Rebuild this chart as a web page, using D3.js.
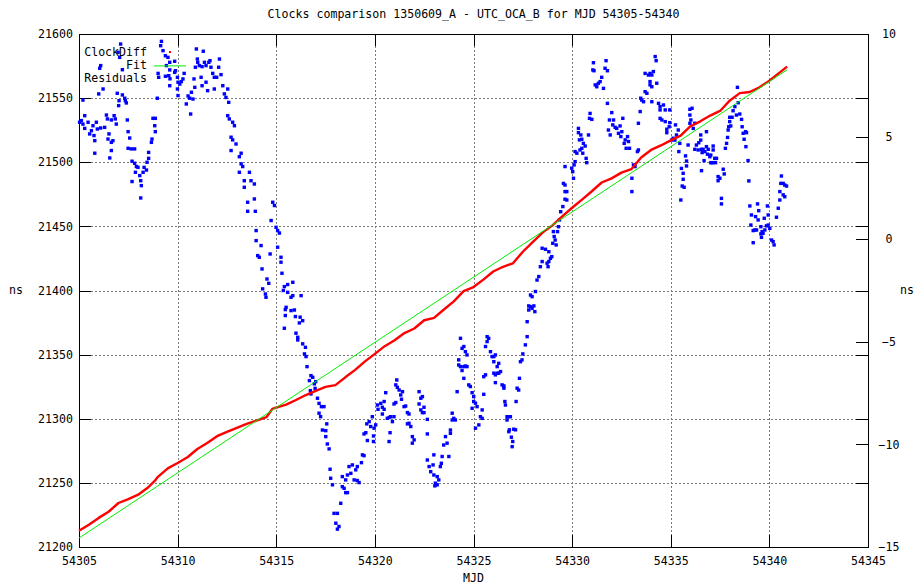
<!DOCTYPE html>
<html>
<head>
<meta charset="utf-8">
<script src="https://cdn.jsdelivr.net/npm/d3@7/dist/d3.min.js"></script>
<style>
  html, body { margin: 0; padding: 0; background: #fff; }
  svg { display: block; }
  text { font-family: "DejaVu Sans Mono", "Liberation Mono", monospace; font-size: 11.6px; fill: #000; }
</style>
</head>
<body>
<svg id="chart" width="914" height="588"></svg>
<script>
// ---- chart text ----
const title = "Clocks comparison 1350609_A - UTC_OCA_B for MJD 54305-54340";
const xLabel = "MJD";
const yLabel = "ns";
const legendNames = ["ClockDiff", "Fit", "Residuals"];

// ---- axis ticks ----
const xTicks = [54305, 54310, 54315, 54320, 54325, 54330, 54335, 54340, 54345];
const yTicks = [21200, 21250, 21300, 21350, 21400, 21450, 21500, 21550, 21600];
const y2Ticks = [-15, -10, -5, 0, 5, 10];

// ---- ClockDiff (ns, left axis) ----
const clockMjd = [54305.0, 54305.5, 54306.0, 54306.5, 54307.0, 54307.5, 54308.0, 54308.5, 54308.85, 54309.0,
  54309.5, 54310.0, 54310.5, 54311.0, 54311.5, 54312.0, 54312.5, 54313.0, 54313.5, 54314.0,
  54314.5, 54314.8, 54315.0, 54315.5, 54316.0, 54316.5, 54317.0, 54317.5, 54318.0, 54318.5,
  54319.0, 54319.5, 54320.0, 54320.5, 54321.0, 54321.5, 54322.0, 54322.5, 54323.0, 54323.5,
  54324.0, 54324.5, 54325.0, 54325.5, 54326.0, 54326.5, 54327.0, 54327.5, 54328.0, 54328.5,
  54329.0, 54329.5, 54330.0, 54330.5, 54331.0, 54331.5, 54332.0, 54332.5, 54333.0, 54333.5,
  54334.0, 54334.5, 54335.0, 54335.5, 54336.0, 54336.5, 54337.0, 54337.5, 54338.0, 54338.5,
  54339.0, 54339.5, 54340.0, 54340.5, 54340.9];
const clockNs = [21212.7, 21217.4, 21222.7, 21227.5, 21234.3, 21237.4, 21240.8, 21246.4, 21251.7, 21254.7,
  21261.3, 21265.5, 21270.0, 21276.4, 21281.1, 21286.4, 21289.8, 21292.9, 21296.0, 21298.6,
  21301.2, 21307.7, 21308.7, 21311.0, 21314.6, 21318.5, 21321.7, 21324.8, 21326.2, 21332.3,
  21338.1, 21344.7, 21350.6, 21356.6, 21361.2, 21366.8, 21370.4, 21376.8, 21378.6, 21385.2,
  21391.5, 21399.5, 21402.7, 21408.5, 21414.8, 21418.5, 21421.2, 21430.2, 21437.8, 21445.1,
  21450.8, 21457.8, 21464.5, 21470.9, 21477.4, 21484.2, 21487.4, 21491.9, 21494.6, 21503.7,
  21509.6, 21513.1, 21517.1, 21520.7, 21528.1, 21531.9, 21536.4, 21540.0, 21548.2, 21553.9,
  21554.8, 21558.4, 21563.6, 21569.7, 21574.6];

// ---- linear fit (ns, left axis) ----
const fitMjd = [54305.0, 54340.9];
const fitNs = [21207.0, 21572.1];

// ---- residuals [MJD, ns] (right axis) ----
const residuals = [
  [54305.03,5.70],[54305.12,5.78],[54305.20,6.78],[54305.20,5.61],[54305.29,6.02],[54305.29,5.40],[54305.46,5.70],
  [54305.54,5.13],[54305.63,5.29],[54305.71,5.53],[54305.76,5.05],[54305.80,4.80],[54305.80,4.19],[54305.88,5.70],
  [54305.93,5.37],[54306.00,7.08],[54306.10,8.46],[54306.05,8.33],[54306.10,5.42],[54306.22,7.32],[54306.30,5.45],
  [54306.39,6.05],[54306.44,5.86],[54306.47,4.88],[54306.52,5.13],[54306.56,3.96],[54306.64,5.81],[54306.64,4.72],
  [54306.64,4.32],[54306.72,4.80],[54306.78,6.02],[54306.84,5.86],[54306.89,5.61],[54306.94,7.11],[54307.01,6.51],
  [54307.03,6.75],[54306.98,9.11],[54307.06,8.86],[54307.11,9.51],[54307.20,8.26],[54307.20,7.03],[54307.32,6.87],
  [54307.35,6.75],[54307.40,6.64],[54307.45,5.81],[54307.49,5.24],[54307.57,4.93],[54307.49,4.43],[54307.65,4.40],
  [54307.82,4.40],[54307.69,3.80],[54307.82,3.70],[54307.91,3.54],[54307.99,3.50],[54307.86,3.26],[54308.08,3.10],
  [54308.25,3.26],[54308.13,2.85],[54307.69,2.81],[54308.16,2.61],[54308.13,2.01],[54308.30,3.50],[54308.45,3.75],
  [54308.42,3.37],[54308.53,3.94],[54308.53,4.23],[54308.67,4.72],[54308.70,4.88],[54308.75,5.89],[54308.87,5.89],
  [54308.84,5.53],[54308.87,5.24],[54308.97,6.87],[54309.18,9.64],[54309.14,9.43],[54309.26,9.19],[54309.38,8.94],
  [54309.51,8.86],[54309.60,8.62],[54309.43,8.46],[54309.60,8.25],[54309.55,7.97],[54309.38,7.94],[54309.01,8.08],
  [54309.04,7.89],[54309.60,7.48],[54309.85,8.67],[54309.89,8.21],[54309.85,8.13],[54309.99,7.89],[54310.02,7.65],
  [54309.99,7.32],[54310.02,7.00],[54310.11,7.56],[54310.19,7.68],[54310.33,8.08],[54310.27,7.81],[54310.44,6.59],
  [54310.53,6.98],[54310.61,6.87],[54310.70,7.16],[54310.66,6.10],[54310.78,6.83],[54310.87,7.40],[54310.83,7.81],
  [54310.90,8.38],[54310.95,9.27],[54311.00,8.78],
  [54311.30,9.16],[54311.02,8.62],[54311.10,8.46],[54311.24,8.41],[54311.36,8.62],[54311.44,8.46],[54311.58,8.62],
  [54311.64,8.70],[54311.69,8.38],[54312.12,8.78],[54312.08,8.38],[54312.20,8.02],[54311.78,8.08],[54311.86,7.89],
  [54311.98,7.89],[54311.19,7.89],[54311.24,7.48],[54311.44,7.65],[54311.52,7.24],[54311.86,7.32],[54312.29,7.48],
  [54312.37,7.08],[54312.54,7.32],[54312.45,6.91],[54312.59,6.67],[54312.54,6.02],[54312.62,5.86],[54312.79,5.70],
  [54312.88,5.53],[54312.71,4.97],[54312.79,4.84],[54312.96,4.64],[54312.71,4.32],[54313.22,4.19],[54313.13,4.02],
  [54313.22,3.67],[54313.30,3.54],[54313.13,3.26],[54313.64,3.26],[54313.72,2.85],[54313.89,2.69],[54313.38,2.85],
  [54313.38,2.53],[54313.55,1.80],[54313.89,1.96],[54313.55,1.36],[54313.94,1.36],[54314.82,1.80],[54314.91,1.64],
  [54314.74,0.91],[54314.99,0.58],[54315.07,0.42],[54315.16,0.30],[54313.98,0.42],[54313.98,-0.07],[54314.23,-0.31],
  [54314.06,-0.80],[54314.14,-0.88],[54314.69,-0.72],[54315.07,-0.39],[54315.24,-0.88],[54315.24,-1.12],[54315.29,-1.66],
  [54314.28,-1.45],[54314.53,-1.94],[54314.62,-2.15],[54314.31,-2.42],[54314.45,-2.67],[54314.48,-2.83],[54315.41,-2.31],
  [54315.58,-2.21],[54315.84,-2.10],[54315.36,-2.50],[54315.58,-2.59],[54315.75,-2.83],[54315.84,-2.75],[54316.26,-2.75],
  [54315.50,-3.32],[54315.46,-3.43],[54315.75,-3.48],[54315.92,-3.45],[54315.46,-3.72],[54315.97,-3.77],[54316.21,-3.80],
  [54316.34,-3.97],[54316.17,-4.08],[54315.41,-4.34],[54316.00,-4.58],[54316.09,-4.78],[54316.09,-4.91],[54316.34,-5.10],
  [54316.48,-5.27],[54316.43,-5.59],[54316.51,-5.72],[54316.56,-6.21],[54316.76,-6.65],[54316.85,-6.73],[54316.68,-6.89],
  [54316.93,-7.05],[54316.73,-7.38],[54316.76,-7.54],
  [54317.00,-6.94],[54316.97,-7.27],[54317.09,-7.75],[54317.17,-8.00],[54317.17,-8.48],[54317.29,-8.16],[54317.42,-8.16],
  [54317.25,-8.65],[54317.56,-9.00],[54317.34,-9.30],[54317.51,-9.33],[54317.51,-9.62],[54317.59,-9.98],[54317.68,-10.22],
  [54317.73,-11.21],[54317.76,-11.65],[54317.85,-11.97],[54318.27,-12.87],[54317.93,-13.36],[54318.10,-13.36],[54318.02,-13.84],
  [54318.18,-14.00],[54318.10,-14.13],[54318.35,-12.06],[54318.44,-12.14],[54318.52,-12.35],[54318.61,-12.35],[54318.35,-11.57],
  [54318.52,-11.73],[54318.61,-11.49],[54318.78,-11.41],[54318.69,-11.08],[54318.86,-11.00],[54319.03,-11.24],[54319.11,-11.08],
  [54318.95,-11.73],[54319.11,-11.76],[54319.20,-11.86],[54319.32,-10.89],[54319.37,-10.51],[54319.45,-10.55],[54319.45,-9.49],
  [54319.54,-9.43],[54319.62,-9.81],[54319.59,-9.00],[54319.71,-8.89],[54319.79,-9.13],[54319.87,-8.65],[54319.96,-9.21],
  [54319.93,-9.59],[54319.93,-9.86],[54320.04,-9.05],[54320.13,-8.08],[54320.16,-8.29],[54320.30,-8.00],[54320.38,-8.19],
  [54320.47,-7.91],[54320.47,-8.29],[54320.38,-8.52],[54320.55,-7.48],[54320.63,-8.73],[54320.72,-8.69],[54320.80,-8.65],
  [54320.97,-8.65],[54320.89,-8.89],[54320.77,-9.43],[54320.72,-9.86],[54320.97,-8.03],[54321.06,-7.96],[54321.11,-6.86],
  [54321.14,-7.22],[54321.06,-7.10],[54321.23,-7.35],[54321.31,-7.59],[54321.40,-7.43],[54321.35,-7.80],[54321.48,-8.16],
  [54321.56,-8.13],[54321.65,-8.45],[54321.73,-8.52],[54321.65,-9.00],[54321.73,-8.97],[54321.82,-9.13],[54321.90,-9.62],
  [54321.90,-9.94],[54321.99,-9.78],[54322.24,-7.43],[54322.33,-7.75],[54322.41,-7.67],[54322.24,-8.03],[54322.33,-8.32],
  [54322.41,-8.45],[54322.49,-8.45],[54322.49,-8.19],[54322.66,-8.78],[54322.66,-9.49],[54322.66,-10.76],[54322.75,-11.08],
  [54322.83,-11.33],
  [54322.99,-10.51],[54322.95,-11.00],[54322.99,-11.49],[54323.16,-11.57],[54323.24,-11.73],[54323.07,-11.89],[54323.16,-11.97],
  [54323.04,-12.02],[54323.32,-11.08],[54323.37,-10.92],[54323.41,-10.59],[54323.49,-10.03],[54323.58,-9.62],[54323.66,-9.94],
  [54323.75,-10.59],[54323.83,-9.46],[54323.83,-9.30],[54323.92,-8.48],[54324.00,-8.73],[54324.08,-8.81],[54323.92,-8.81],
  [54324.17,-7.43],[54324.25,-6.13],[54324.34,-4.83],[54324.42,-5.32],[54324.51,-5.23],[54324.59,-5.48],[54324.25,-5.88],
  [54324.34,-6.21],[54324.51,-6.21],[54324.59,-6.18],[54324.67,-6.21],[54324.42,-6.40],[54324.51,-6.78],[54324.67,-5.64],
  [54324.76,-7.10],[54324.84,-7.18],[54324.93,-7.48],[54325.01,-7.67],[54325.01,-7.91],[54324.93,-8.24],[54325.10,-7.99],
  [54325.18,-8.16],[54325.10,-9.21],[54325.27,-9.05],[54325.35,-8.65],[54325.44,-8.73],[54325.44,-8.32],[54325.52,-7.56],
  [54325.52,-6.70],[54325.61,-6.61],[54325.61,-5.23],[54325.69,-4.75],[54325.77,-4.83],[54325.69,-4.99],[54325.86,-5.48],
  [54325.94,-5.72],[54326.03,-5.72],[54326.11,-5.64],[54326.03,-5.97],[54326.03,-6.53],[54326.11,-6.61],[54326.20,-6.53],
  [54326.28,-6.53],[54326.37,-6.45],[54326.20,-6.21],[54326.28,-6.05],[54326.11,-6.99],[54326.45,-7.10],[54326.54,-7.15],
  [54326.54,-7.26],[54326.59,-7.91],[54326.62,-8.08],[54326.70,-8.65],[54326.70,-8.81],[54326.79,-8.65],[54326.87,-8.65],
  [54326.82,-9.29],[54326.79,-9.38],[54326.92,-9.65],[54326.99,-9.86],[54327.04,-9.26],[54327.13,-9.29],[54326.96,-10.11],
  [54327.16,-7.91],[54327.21,-7.26],[54327.29,-7.35],[54327.33,-6.78],[54327.38,-5.97],[54327.46,-5.88],[54327.50,-5.59],
  [54327.63,-5.15],[54327.72,-4.75],[54327.72,-4.02],[54327.80,-3.45],[54327.80,-3.25],[54327.89,-3.29],[54327.97,-3.37],
  [54328.06,-3.25],[54328.11,-3.53],[54327.89,-2.72],[54327.97,-2.80],[54328.14,-2.55],[54328.22,-1.99],[54328.31,-1.82],
  [54328.39,-1.34],[54328.48,-1.09],[54328.48,-0.44],[54328.65,-0.49],[54328.73,-1.17],[54328.82,-1.09],[54328.78,-1.34],
  [54328.90,-0.93],[54328.82,-0.61],
  [54328.97,-0.85],[54329.02,-0.20],[54329.09,0.13],[54329.14,-0.04],[54329.19,-0.28],[54329.05,0.37],[54329.26,0.37],
  [54329.31,0.61],[54329.36,0.94],[54329.42,1.34],[54329.53,1.59],[54329.64,1.95],[54329.73,1.91],[54329.64,2.32],
  [54329.56,2.72],[54329.64,2.64],[54330.07,2.97],[54330.03,3.29],[54329.98,3.46],[54330.10,3.62],[54330.15,3.78],
  [54329.64,3.54],[54329.73,2.32],[54330.15,4.27],[54330.24,4.19],[54330.40,4.35],[54330.49,4.43],[54330.54,4.19],
  [54330.66,4.54],[54330.57,4.67],[54330.49,4.87],[54330.37,4.84],[54330.44,5.08],[54330.32,5.40],[54330.32,5.19],
  [54330.71,3.94],[54330.74,3.73],[54330.83,5.08],[54330.91,6.13],[54330.88,5.89],[54331.00,5.84],[54331.08,8.60],
  [54331.05,8.25],[54331.11,8.21],[54331.17,7.52],[54331.25,7.43],[54331.33,7.60],[54331.42,7.68],[54331.50,7.89],
  [54331.59,7.35],[54331.67,8.33],[54331.72,8.70],[54331.79,8.21],[54331.79,6.62],[54331.84,5.32],[54331.89,5.81],
  [54331.93,5.08],[54332.01,6.17],[54332.10,5.81],[54332.06,5.57],[54332.18,5.45],[54332.26,5.40],[54332.35,5.16],
  [54332.43,5.52],[54332.47,5.00],[54332.52,5.24],[54332.57,5.89],[54332.64,4.67],[54332.69,4.84],[54332.74,4.43],
  [54332.81,5.00],[54332.86,4.76],[54332.91,4.43],[54333.03,2.32],[54333.03,2.97],[54333.11,3.62],[54333.19,3.54],
  [54333.36,4.35],[54333.31,4.27],[54333.36,5.65],[54333.45,6.22],[54333.48,6.87],[54333.53,6.78],[54333.62,6.70],
  [54333.70,7.19],[54333.79,7.11],[54333.70,8.08],[54333.87,8.00],[54333.95,8.08],[54334.04,8.00],[54334.12,8.17],
  [54333.95,7.68],[54333.95,7.52],[54334.04,7.43],[54334.04,6.70],[54334.29,7.60],[54334.21,8.90],[54334.26,8.70],
  [54334.38,6.62],[54334.46,6.46],[54334.46,6.30],[54334.63,6.54],[54334.72,6.30],[54334.46,5.89],[54334.55,5.81],
  [54334.72,5.73],[54334.80,5.36],[54334.80,5.19],
  [54334.95,6.30],[54334.95,5.68],[54334.92,5.48],[54335.04,4.83],[54335.12,4.92],[54335.21,4.83],[54335.29,5.08],
  [54335.24,5.57],[54335.38,5.32],[54335.46,4.67],[54335.41,4.27],[54335.54,3.45],[54335.51,1.91],[54335.63,3.21],
  [54335.63,2.92],[54335.58,2.59],[54335.68,2.53],[54335.75,4.06],[54335.80,3.81],[54335.80,3.57],[54335.88,4.59],
  [54335.97,6.33],[54336.08,6.38],[54335.97,6.05],[54336.02,5.81],[54335.97,5.65],[54336.14,5.40],[54336.22,5.65],
  [54336.22,4.38],[54336.30,4.59],[54336.39,4.35],[54336.42,4.70],[54336.52,5.08],[54336.52,4.83],[54336.56,4.38],
  [54336.59,4.22],[54336.56,3.34],[54336.64,4.38],[54336.69,3.83],[54336.73,4.27],[54336.81,5.24],[54336.81,4.51],
  [54336.86,4.14],[54336.90,4.38],[54336.98,4.02],[54337.03,4.10],[54337.03,3.73],[54337.07,3.73],[54337.15,3.73],
  [54337.15,4.54],[54337.15,4.35],[54337.23,3.94],[54337.32,3.94],[54337.27,3.73],[54337.40,3.05],[54337.40,2.85],
  [54337.49,2.97],[54337.57,1.99],[54337.57,1.72],[54337.66,3.41],[54337.71,3.18],[54337.77,4.43],[54337.83,4.67],
  [54337.88,4.96],[54337.91,5.32],[54337.94,5.48],[54337.99,5.73],[54337.99,5.94],[54338.04,5.52],[54338.11,5.94],
  [54338.16,6.26],[54338.25,6.46],[54338.33,6.05],[54338.42,6.65],[54338.38,7.40],[54338.50,6.10],[54338.59,5.84],
  [54338.62,5.48],[54338.67,5.16],[54338.72,4.87],[54338.79,5.24],[54338.84,5.19],[54338.81,4.51],[54338.92,3.83],
  [54338.96,2.84],[54339.01,1.62],[54339.06,0.69],[54339.09,1.18],[54339.18,0.42],[54339.26,0.45],[54339.30,1.10],
  [54339.35,0.45],[54339.40,1.72],[54339.46,1.39],[54339.43,0.94],[54339.57,0.61],[54339.57,0.26],[54339.60,0.09],
  [54339.63,0.37],[54339.68,0.29],[54339.77,0.45],[54339.18,-0.17],[54339.74,1.02],[54339.90,1.62],[54339.94,1.18],
  [54339.85,0.65],[54339.94,0.69],[54340.02,0.53],[54340.11,-0.04],[54340.19,-0.12],[54340.24,-0.28],[54340.36,1.07],
  [54340.45,1.51],[54340.53,1.91],[54340.53,2.32],[54340.58,2.72],[54340.61,3.08],[54340.70,2.72],[54340.78,2.64],
  [54340.87,2.59],[54340.70,2.16],[54340.78,2.07]
];

// ---- layout ----
const W = 914, H = 588;
const plot = { left: 79, right: 868, top: 34, bottom: 547 };
const TICK = 12;

const svg = d3.select("#chart");
svg.append("rect").attr("width", W).attr("height", H).attr("fill", "#fff");

const x = d3.scaleLinear().domain([54305, 54345]).range([plot.left, plot.right]);
const yL = d3.scaleLinear().domain([21200, 21600]).range([plot.bottom, plot.top]);
const yR = d3.scaleLinear().domain([-15, 10]).range([plot.bottom, plot.top]);

// dotted grid
const grid = svg.append("g").attr("stroke", "#7a7a7a").attr("stroke-width", 1)
  .attr("stroke-dasharray", "1.5,2.5").attr("shape-rendering", "crispEdges");
grid.selectAll("line.gx").data(xTicks.slice(1, -1)).join("line")
  .attr("x1", d => Math.round(x(d)) + 0.5).attr("x2", d => Math.round(x(d)) + 0.5)
  .attr("y1", plot.top).attr("y2", plot.bottom);
grid.selectAll("line.gy").data(yTicks.slice(1, -1)).join("line")
  .attr("x1", plot.left).attr("x2", plot.right)
  .attr("y1", d => Math.round(yL(d)) + 0.5).attr("y2", d => Math.round(yL(d)) + 0.5);

// axes (ticks pointing inwards)
function styleAxis(g) {
  g.attr("font-family", null).attr("font-size", null);
  g.select(".domain").remove();
  g.selectAll(".tick line").attr("stroke", "#000").attr("shape-rendering", "crispEdges");
}
svg.append("g").attr("transform", `translate(0,${plot.bottom})`)
  .call(d3.axisBottom(x).tickValues(xTicks).tickFormat(d3.format("d")).tickSizeInner(-TICK).tickSizeOuter(0).tickPadding(10))
  .call(styleAxis);
svg.append("g").attr("transform", `translate(0,${plot.top})`)
  .call(d3.axisTop(x).tickValues(xTicks).tickFormat("").tickSizeInner(-TICK).tickSizeOuter(0))
  .call(styleAxis);
svg.append("g").attr("transform", `translate(${plot.left},0)`)
  .call(d3.axisLeft(yL).tickValues(yTicks).tickFormat(d3.format("d")).tickSizeInner(-TICK).tickSizeOuter(0).tickPadding(6))
  .call(styleAxis);
svg.append("g").attr("transform", `translate(${plot.right},0)`)
  .call(d3.axisRight(yL).tickValues(yTicks).tickFormat("").tickSizeInner(-TICK).tickSizeOuter(0))
  .call(styleAxis);
svg.append("g").attr("transform", `translate(${plot.right},0)`)
  .call(d3.axisRight(yR).tickValues(y2Ticks).tickFormat(d3.format("d")).tickSizeInner(-TICK).tickSizeOuter(0).tickPadding(21))
  .call(styleAxis)
  .call(g => g.selectAll(".tick text").attr("text-anchor", "middle"));

// frame
svg.append("rect")
  .attr("x", plot.left + 0.5).attr("y", plot.top + 0.5)
  .attr("width", plot.right - plot.left).attr("height", plot.bottom - plot.top)
  .attr("fill", "none").attr("stroke", "#000").attr("stroke-width", 1)
  .attr("shape-rendering", "crispEdges");

// residual points (right axis)
svg.append("g").attr("fill", "#0000ff")
  .selectAll("rect").data(residuals).join("rect")
  .attr("x", d => x(d[0]) - 1.7).attr("y", d => yR(d[1]) - 1.7)
  .attr("width", 3.4).attr("height", 3.4);

// clock difference
const clockPts = clockMjd.map((m, i) => [m, clockNs[i]]);
svg.append("path").datum(clockPts)
  .attr("fill", "none").attr("stroke", "#ff0000").attr("stroke-width", 2.4)
  .attr("stroke-linejoin", "round")
  .attr("d", d3.line().x(d => x(d[0])).y(d => yL(d[1])));

// fit
const fitPts = fitMjd.map((m, i) => [m, fitNs[i]]);
svg.append("path").datum(fitPts)
  .attr("fill", "none").attr("stroke", "#00ee00").attr("stroke-width", 1)
  .attr("d", d3.line().x(d => x(d[0])).y(d => yL(d[1])));

// key
const key = svg.append("g");
const keyX = 147, keyY0 = 52, keyDy = 13.4;
legendNames.forEach((name, i) => {
  key.append("text").attr("x", keyX).attr("y", keyY0 + i * keyDy)
    .attr("text-anchor", "end").attr("dominant-baseline", "middle").text(name);
});
key.append("rect").attr("x", 169).attr("y", keyY0 - 1).attr("width", 2).attr("height", 2).attr("fill", "#ff0000");
key.append("line").attr("x1", 154).attr("x2", 186).attr("y1", keyY0 + keyDy + 0.5).attr("y2", keyY0 + keyDy + 0.5)
  .attr("stroke", "#00ee00").attr("stroke-width", 1);
key.append("rect").attr("x", 168.3).attr("y", keyY0 + 2 * keyDy - 1.7).attr("width", 3.4).attr("height", 3.4).attr("fill", "#0000ff");

// titles
svg.append("text").attr("x", (plot.left + plot.right) / 2).attr("y", 18)
  .attr("text-anchor", "middle").text(title);
svg.append("text").attr("x", (plot.left + plot.right) / 2).attr("y", 582)
  .attr("text-anchor", "middle").text(xLabel);
svg.append("text").attr("x", 16).attr("y", (plot.top + plot.bottom) / 2)
  .attr("text-anchor", "middle").attr("dominant-baseline", "middle").text(yLabel);
svg.append("text").attr("x", 907).attr("y", (plot.top + plot.bottom) / 2)
  .attr("text-anchor", "middle").attr("dominant-baseline", "middle").text(yLabel);
</script>
</body>
</html>
